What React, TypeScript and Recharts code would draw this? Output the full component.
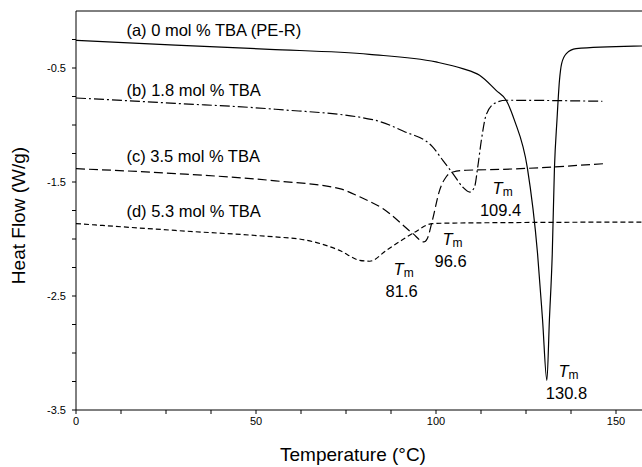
import React from "react";
import {
  Line,
  LineChart,
  ReferenceDot,
  ReferenceLine,
  XAxis,
  YAxis,
} from "recharts";

// DSC heating traces
const tempA = [0, 27.6, 53.8, 81.5, 100, 107.4, 112.1, 116.7, 119.5, 121.8, 125.4, 128.2, 129.6, 130.8, 131.5, 132.3, 132.9, 133.6, 134.3, 134.9, 136.2, 138.9, 157.1, 160];
const flowA = [-0.257, -0.3, -0.336, -0.38, -0.447, -0.505, -0.564, -0.696, -0.783, -0.959, -1.38, -2.125, -2.71, -3.24, -2.71, -2.125, -1.38, -0.959, -0.608, -0.461, -0.374, -0.33, -0.307, -0.305];

const tempB = [0, 27.6, 55.4, 82.4, 91, 99.0, 101.9, 104.7, 107.4, 109.4, 110.7, 111.6, 112.6, 113.9, 116.3, 119.5, 146.2];
const flowB = [-0.763, -0.81, -0.862, -0.953, -1.055, -1.19, -1.31, -1.426, -1.544, -1.588, -1.544, -1.368, -1.134, -0.915, -0.81, -0.783, -0.792];

const tempC = [0, 27.6, 55.4, 73.2, 78.8, 85.2, 93.6, 96.6, 97.6, 99.0, 101, 102.8, 104.7, 108.4, 117.6, 146.8];
const flowC = [-1.383, -1.426, -1.49, -1.558, -1.63, -1.733, -1.953, -2.026, -1.995, -1.836, -1.573, -1.456, -1.412, -1.397, -1.39, -1.339];

const tempD = [0, 27.6, 55.4, 62.1, 73.2, 78.8, 81.6, 86.2, 93.6, 99, 105, 157.1, 160];
const flowD = [-1.865, -1.925, -1.982, -2.0, -2.1, -2.187, -2.195, -2.1, -1.95, -1.865, -1.86, -1.852, -1.852];

const seriesNames = [
  "(a) 0 mol % TBA (PE-R)",
  "(b) 1.8 mol % TBA",
  "(c) 3.5 mol % TBA",
  "(d) 5.3 mol % TBA",
];
const seriesDash = ["", "10 3 2 3", "9 4", "5 3"];

// melting peak annotations
const tmValues = ["109.4", "96.6", "81.6", "130.8"];

const xTicks = [0, 12.5, 25, 37.5, 50, 62.5, 75, 87.5, 100, 112.5, 125, 137.5, 150];
const yTicks = [-3.5, -3.25, -3, -2.75, -2.5, -2.25, -2, -1.75, -1.5, -1.25, -1, -0.75, -0.5, -0.25];

// label anchors in data coordinates
const nameAnchors = [
  { t: 14, h: -0.169 },
  { t: 14, h: -0.696 },
  { t: 14, h: -1.275 },
  { t: 14, h: -1.757 },
];
const tmAnchors = [
  { t: 118.5, h: -1.555 },
  { t: 104.6, h: -2.003 },
  { t: 91, h: -2.266 },
  { t: 136.8, h: -3.16 },
];

const FONT = '"Liberation Sans", Arial, Helvetica, sans-serif';
const INK = "#000";

const toPoints = (ts: number[], hs: number[]) => ts.map((t, i) => ({ t, h: hs[i] }));
const series = [
  toPoints(tempA, flowA),
  toPoints(tempB, flowB),
  toPoints(tempC, flowC),
  toPoints(tempD, flowD),
];

const xTickLabel = (v: number) => (v % 50 === 0 ? String(v) : "");
const yTickLabel = (v: number) => (Math.abs((v * 2) % 2) === 1 ? v.toFixed(1) : "");

function YTitle(props: any) {
  const vb = props.viewBox || { x: 0, y: 11, width: 76, height: 399 };
  const x = vb.x + 18;
  const y = vb.y + vb.height / 2 + 5;
  return (
    <text
      x={x}
      y={y}
      transform={`rotate(-90, ${x}, ${y})`}
      textAnchor="middle"
      dominantBaseline="central"
      fontSize={19}
      fontFamily={FONT}
      fill={INK}
    >
      Heat Flow (W/g)
    </text>
  );
}

function XTitle(props: any) {
  const vb = props.viewBox || { x: 76, y: 410, width: 576, height: 57 };
  return (
    <text
      x={vb.x + 277}
      y={vb.y + 51}
      textAnchor="middle"
      fontSize={19}
      fontFamily={FONT}
      fill={INK}
    >
      Temperature (°C)
    </text>
  );
}

export default function App() {
  return (
    <div style={{ width: 642, height: 467, overflow: "hidden", background: "#fff" }}>
      <style>{"body{margin:0;background:#fff}"}</style>
      <LineChart
        width={652}
        height={467}
        margin={{ top: 11, right: 0, bottom: 0, left: 0 }}
        style={{ fontFamily: FONT }}
      >
        <XAxis
          type="number"
          dataKey="t"
          domain={[0, 160]}
          ticks={xTicks}
          tickFormatter={xTickLabel}
          tick={{ fill: INK, fontSize: 11 }}
          tickSize={4}
          tickMargin={3}
          stroke={INK}
          height={57}
          allowDataOverflow
          label={{ content: XTitle }}
        />
        <YAxis
          type="number"
          domain={[-3.5, 0]}
          ticks={yTicks}
          tickFormatter={yTickLabel}
          tick={{ fill: INK, fontSize: 11 }}
          tickSize={4}
          tickMargin={6}
          stroke={INK}
          width={76}
          allowDataOverflow
          label={{ content: YTitle }}
        />
        <ReferenceLine y={0} stroke={INK} strokeWidth={1} />
        {series.map((pts, i) => (
          <Line
            key={seriesNames[i]}
            data={pts}
            dataKey="h"
            type="monotone"
            stroke={INK}
            strokeWidth={1.2}
            strokeDasharray={seriesDash[i] || undefined}
            dot={false}
            activeDot={false}
            isAnimationActive={false}
          />
        ))}
        {nameAnchors.map((a, i) => (
          <ReferenceDot
            key={"name" + i}
            x={a.t}
            y={a.h}
            r={1}
            shape={(p: any) => (
              <text
                x={p.cx}
                y={p.cy}
                dominantBaseline="central"
                fontSize={16.5}
                fontFamily={FONT}
                fill={INK}
              >
                {seriesNames[i]}
              </text>
            )}
          />
        ))}
        {tmAnchors.map((a, i) => (
          <ReferenceDot
            key={"tm" + i}
            x={a.t}
            y={a.h}
            r={1}
            shape={(p: any) => (
              <g fontFamily={FONT} fill={INK}>
                <text x={p.cx} y={p.cy} textAnchor="middle" dominantBaseline="central" fontSize={16.5}>
                  <tspan fontStyle="italic">T</tspan>
                  <tspan fontSize={12} dy={4}>m</tspan>
                </text>
                <text x={p.cx - 2} y={p.cy + 22} textAnchor="middle" dominantBaseline="central" fontSize={16.5}>
                  {tmValues[i]}
                </text>
              </g>
            )}
          />
        ))}
      </LineChart>
    </div>
  );
}
